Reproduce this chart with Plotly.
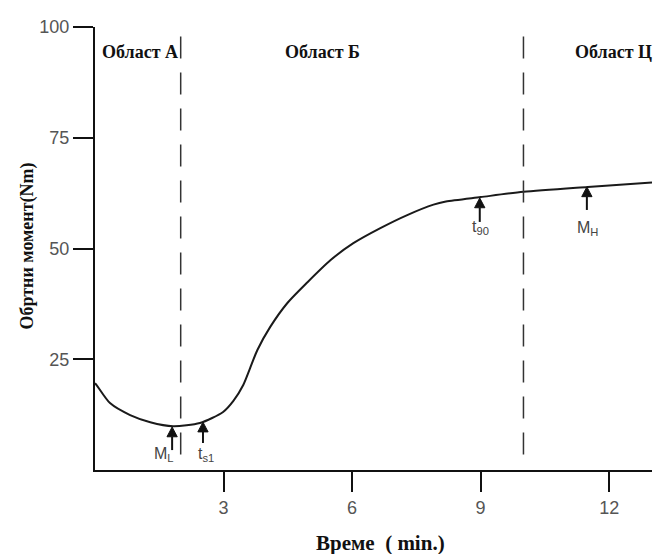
import plotly.graph_objects as go

# curve data (time in min, torque in Nm)
time_min = [0.0, 0.05, 0.35, 0.82, 1.29, 1.82, 2.45, 2.99, 3.23, 3.46, 3.62, 3.79, 4.09, 4.49,
            4.96, 5.50, 6.03, 6.66, 7.30, 7.90, 8.19, 9.0, 10.0, 11.5, 13.0]
torque_nm = [19.6, 19.0, 15.1, 12.4, 10.8, 9.9, 10.6, 13.1, 15.6, 19.2, 23.0, 27.1, 32.3, 37.7,
             42.4, 47.4, 51.2, 54.6, 57.6, 59.9, 60.6, 61.6, 62.8, 63.9, 64.9]

region_labels = ["Област А", "Област Б", "Област Ц"]
region_x = [1.04, 5.3, 12.1]
region_y = [94.3, 94.3, 94.3]

boundaries = [2.0, 10.0]

marker_labels = ["M<sub>L</sub>", "t<sub>s1</sub>", "t<sub>90</sub>", "M<sub>H</sub>"]
marker_x = [1.8, 2.52, 8.98, 11.48]
marker_tip_y = [9.7, 10.8, 61.4, 63.9]
marker_tail_y = [4.5, 6.1, 56.0, 58.7]
label_x = [1.62, 2.6, 9.0, 11.5]
label_y = [3.5, 3.4, 54.8, 54.6]

x_ticks = [3, 6, 9, 12]
y_ticks = [25, 50, 75, 100]

serif = "Liberation Serif, Times New Roman, serif"
sans = "Liberation Sans, Arial, sans-serif"

fig = go.Figure()
fig.add_trace(go.Scatter(x=time_min, y=torque_nm, mode="lines",
                         line=dict(color="#1a1a1a", width=2, shape="spline", smoothing=0.7),
                         hoverinfo="skip", showlegend=False))

shapes = []
for b in boundaries:
    shapes.append(dict(type="line", xref="x", yref="y", x0=b, x1=b, y0=3.5, y1=100,
                       line=dict(color="#333333", width=1.5, dash="22px,14px")))

# arrows: shaft + filled triangular head
head_len = 2.2
head_half = 0.12
for i in range(len(marker_x)):
    mx, ty, tl = marker_x[i], marker_tip_y[i], marker_tail_y[i]
    shapes.append(dict(type="line", xref="x", yref="y", x0=mx, x1=mx, y0=tl, y1=ty - head_len,
                       line=dict(color="#111111", width=2)))
    shapes.append(dict(type="path", xref="x", yref="y",
                       path=f"M {mx - head_half} {ty - head_len} L {mx + head_half} {ty - head_len} L {mx} {ty} Z",
                       fillcolor="#111111", line=dict(color="#111111", width=1)))

annotations = []
for t, x, y in zip(region_labels, region_x, region_y):
    annotations.append(dict(x=x, y=y, xref="x", yref="y", text=f"<b>{t}</b>", showarrow=False,
                            font=dict(family=serif, size=18, color="#111111")))
for i in range(len(marker_labels)):
    annotations.append(dict(x=label_x[i], y=label_y[i], xref="x", yref="y",
                            text=marker_labels[i], showarrow=False,
                            font=dict(family=sans, size=16, color="#444444")))
annotations.append(dict(x=0, y=0, xref="paper", yref="paper", xanchor="center", yanchor="middle",
                        xshift=285, yshift=-73,
                        text="<b>Време  ( min.)</b>", showarrow=False,
                        font=dict(family=serif, size=21, color="#111111")))
annotations.append(dict(x=0, y=0.5, xref="paper", yref="paper", xanchor="center", yanchor="middle",
                        xshift=-68, yshift=2, textangle=-90,
                        text="<b>Обртни момент(Nm)</b>", showarrow=False,
                        font=dict(family=serif, size=18, color="#111111")))

fig.update_layout(
    width=654, height=554,
    margin=dict(l=95, r=2, t=27, b=84),
    paper_bgcolor="white", plot_bgcolor="white",
    shapes=shapes, annotations=annotations,
    xaxis=dict(range=[0, 13], tickvals=x_ticks, ticktext=[str(v) for v in x_ticks],
               showgrid=False, zeroline=False, showline=True, linecolor="#111111", linewidth=2,
               ticks="outside", ticklen=20, tickwidth=2, tickcolor="#111111",
               tickfont=dict(family=sans, size=18, color="#555555")),
    yaxis=dict(range=[0, 100], tickvals=y_ticks, ticktext=[str(v) for v in y_ticks],
               showgrid=False, zeroline=False, showline=True, linecolor="#111111", linewidth=2,
               ticks="outside", ticklen=20, tickwidth=2, tickcolor="#111111",
               tickfont=dict(family=sans, size=18, color="#555555")),
)

fig.write_html("out.html", config={"displayModeBar": False},
               post_script="document.body.style.margin='0';document.body.style.overflow='hidden';")
